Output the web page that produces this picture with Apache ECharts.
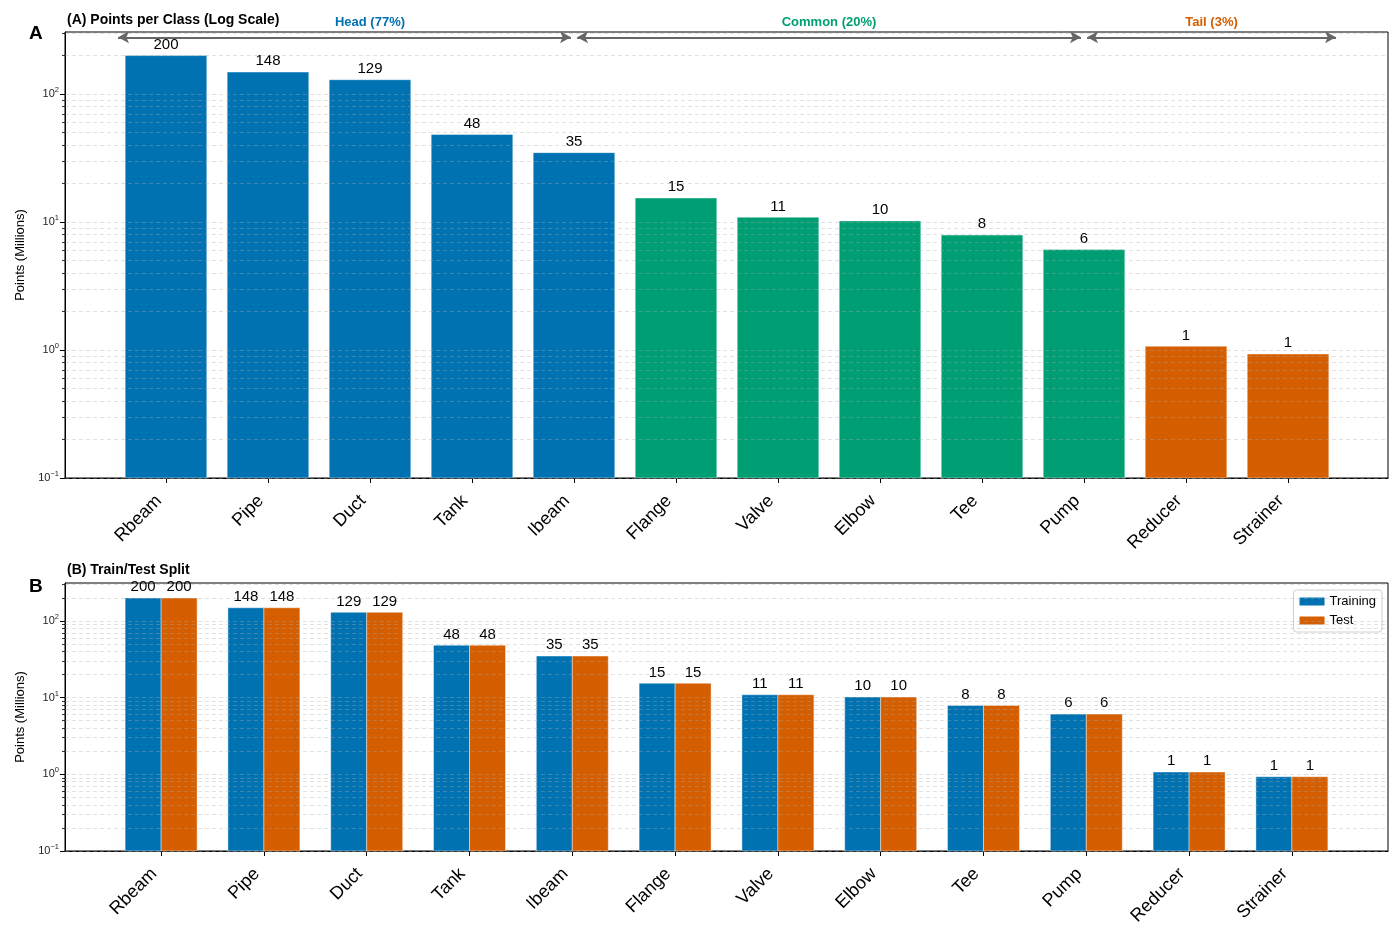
<!DOCTYPE html>
<html>
<head>
<meta charset="utf-8">
<script src="https://cdn.jsdelivr.net/npm/echarts@6/dist/echarts.min.js"></script>
<style>
  html, body { margin: 0; padding: 0; background: #fff; }
  #chart { width: 1400px; height: 938px; }
</style>
</head>
<body>
<div id="chart"></div>
<script>
// class names and point counts (millions)
const classNames = ['Rbeam', 'Pipe', 'Duct', 'Tank', 'Ibeam', 'Flange', 'Valve', 'Elbow', 'Tee', 'Pump', 'Reducer', 'Strainer'];
const pointsMillions = [199.6, 148.3, 129.2, 48.2, 34.8, 15.4, 10.9, 10.2, 7.9, 6.1, 1.07, 0.93];
const classGroup = [0, 0, 0, 0, 0, 1, 1, 1, 1, 1, 2, 2];
const trainMillions = [199.6, 148.3, 129.2, 48.2, 34.8, 15.4, 10.9, 10.2, 7.9, 6.1, 1.07, 0.93];
const testMillions = [199.6, 148.3, 129.2, 48.2, 34.8, 15.4, 10.9, 10.2, 7.9, 6.1, 1.07, 0.93];

// head / common / tail bands
const groupNames = ['Head (77%)', 'Common (20%)', 'Tail (3%)'];
const groupFrom = [-0.5, 4, 9];
const groupTo = [4, 9, 11.5];
const groupLabelX = [2, 6.5, 10.25];

const majorTicks = [0.1, 1, 10, 100];
const minorTicks = [0.2, 0.3, 0.4, 0.5, 0.6, 0.7, 0.8, 0.9, 2, 3, 4, 5, 6, 7, 8, 9,
                    20, 30, 40, 50, 60, 70, 80, 90, 200, 300];

const groupColors = ['#0072B2', '#009E73', '#D55E00'];
const trainColor = '#0072B2';
const testColor = '#D55E00';
const FONT = 'Liberation Sans, Arial, sans-serif';
const LOG_FLOOR = 0.1;

const chart = echarts.init(document.getElementById('chart'));

function xAxis(gi, lo, hi) {
    return {
        type: 'value', gridIndex: gi, min: lo, max: hi,
        axisLine: { show: true, onZero: false, lineStyle: { color: '#000', width: 1 } },
        axisTick: { show: true, length: 5, lineStyle: { color: '#000' }, customValues: classNames.map((n, i) => i) },
        axisLabel: {
            customValues: classNames.map((n, i) => i),
            formatter: v => classNames[Math.round(v)] || '',
            rotate: 45, fontSize: 18, color: '#000', margin: 13, padding: [0, 10, 0, 0], fontFamily: FONT
        },
        splitLine: { show: false }
    };
}

function expLabel(v) {
    const e = Math.round(Math.log10(v));
    return '{b|10}{s|' + (e < 0 ? '\u2212' + (-e) : e) + '}';
}

function yAxes(gi, hi) {
    return [{
        type: 'log', logBase: 10, gridIndex: gi, min: LOG_FLOOR, max: hi, position: 'left',
        name: 'Points (Millions)', nameLocation: 'middle', nameGap: 38,
        nameTextStyle: { fontSize: 13, color: '#000', fontFamily: FONT },
        axisLine: { show: true, onZero: false, lineStyle: { color: '#000', width: 1 } },
        axisTick: { show: true, length: 5, lineStyle: { color: '#000' }, customValues: majorTicks },
        axisLabel: {
            customValues: majorTicks, formatter: expLabel, margin: 6,
            rich: {
                b: { fontSize: 11, color: '#222', fontFamily: FONT },
                s: { fontSize: 7.5, color: '#222', fontFamily: FONT, padding: [0, 0, 8, 0] }
            }
        },
        splitLine: { show: false }
    }, {
        type: 'log', logBase: 10, gridIndex: gi, min: LOG_FLOOR, max: hi, position: 'left',
        axisLine: { show: false, onZero: false },
        axisTick: { show: true, length: 3, lineStyle: { color: '#000', width: 0.8 }, customValues: minorTicks },
        axisLabel: { show: false },
        splitLine: { show: false }
    }];
}

function gridLineSeries(gi, yi) {
    return {
        name: 'grid' + gi, type: 'line', xAxisIndex: gi, yAxisIndex: yi, data: [],
        markLine: {
            silent: true, symbol: 'none',
            label: { show: false },
            lineStyle: { type: [4, 3], color: 'rgba(170,170,170,0.45)', width: 0.8 },
            emphasis: { disabled: true },
            data: majorTicks.concat(minorTicks).map(v => ({ yAxis: v }))
        }
    };
}

// bar from the log floor up to the value, spanning [x+from, x+to] in data units
function barRenderer(from, to, colorOf) {
    return function (params, api) {
        const x = api.value(0);
        const v = api.value(1);
        const tl = api.coord([x + from, v]);
        const br = api.coord([x + to, LOG_FLOOR]);
        return {
            type: 'rect',
            shape: { x: tl[0], y: tl[1], width: br[0] - tl[0], height: br[1] - tl[1] },
            style: { fill: colorOf(params.dataIndex), stroke: 'rgba(255,255,255,0.7)', lineWidth: 0.6 },
            textContent: {
                style: { text: String(Math.round(v)), fontSize: 15, fill: '#000', fontFamily: FONT }
            },
            textConfig: { position: 'top', distance: 3 }
        };
    };
}

const option = {
    animation: false,
    textStyle: { fontFamily: FONT },
    title: [
        { text: '(A) Points per Class (Log Scale)', left: 62, top: 8, textStyle: { fontSize: 14, fontWeight: 'bold', color: '#000', fontFamily: FONT } },
        { text: 'A', left: 24, top: 19, textStyle: { fontSize: 19, fontWeight: 'bold', color: '#000', fontFamily: FONT } },
        { text: '(B) Train/Test Split', left: 62, top: 558, textStyle: { fontSize: 14, fontWeight: 'bold', color: '#000', fontFamily: FONT } },
        { text: 'B', left: 24, top: 572, textStyle: { fontSize: 19, fontWeight: 'bold', color: '#000', fontFamily: FONT } }
    ],
    legend: {
        data: ['Training', 'Test'], right: 18, top: 590, orient: 'vertical', icon: 'rect',
        itemWidth: 25, itemHeight: 8, itemGap: 6,
        textStyle: { fontSize: 13, color: '#000', fontFamily: FONT },
        borderColor: '#d0d0d0', borderWidth: 1, borderRadius: 3, padding: [5, 6, 5, 6],
        backgroundColor: '#fff'
    },
    grid: [
        { left: 65, right: 12, top: 32, height: 446, show: true, borderColor: '#000', borderWidth: 1 },
        { left: 65, right: 12, top: 583, height: 268, show: true, borderColor: '#000', borderWidth: 1 }
    ],
    xAxis: [xAxis(0, -0.99, 11.98), xAxis(1, -0.935, 11.935)],
    yAxis: yAxes(0, 305).concat(yAxes(1, 312)),
    series: [
        {
            name: 'Points', type: 'custom', xAxisIndex: 0, yAxisIndex: 0,
            renderItem: barRenderer(-0.4, 0.4, i => groupColors[classGroup[i]]),
            encode: { x: 0, y: 1 },
            data: pointsMillions.map((v, i) => [i, v])
        },
        gridLineSeries(0, 0),
        {
            name: 'bands', type: 'line', xAxisIndex: 0, yAxisIndex: 0, data: [],
            markLine: {
                silent: true, symbol: ['arrow', 'arrow'], symbolSize: [9, 11],
                label: { show: false },
                lineStyle: { type: 'solid', color: '#666', width: 2 },
                emphasis: { disabled: true },
                data: groupNames.map((n, g) => [
                    { coord: [groupFrom[g] + 0.03, 277] },
                    { coord: [groupTo[g] - 0.03, 277] }
                ])
            }
        },
        {
            name: 'bandLabels', type: 'scatter', xAxisIndex: 0, yAxisIndex: 0, clip: false,
            symbolSize: 0, silent: true, itemStyle: { opacity: 1 },
            data: groupNames.map((n, g) => ({
                name: n, value: [groupLabelX[g], 360],
                label: { color: groupColors[g] }
            })),
            label: {
                show: true, position: 'inside', formatter: p => p.name,
                fontSize: 13, fontWeight: 'bold', fontFamily: FONT
            }
        },
        {
            name: 'Training', type: 'custom', xAxisIndex: 1, yAxisIndex: 2,
            itemStyle: { color: trainColor },
            renderItem: barRenderer(-0.35, 0, () => trainColor),
            encode: { x: 0, y: 1 },
            data: trainMillions.map((v, i) => [i, v])
        },
        {
            name: 'Test', type: 'custom', xAxisIndex: 1, yAxisIndex: 2,
            itemStyle: { color: testColor },
            renderItem: barRenderer(0, 0.35, () => testColor),
            encode: { x: 0, y: 1 },
            data: testMillions.map((v, i) => [i, v])
        },
        gridLineSeries(1, 2)
    ]
};

chart.setOption(option);
</script>
</body>
</html>
